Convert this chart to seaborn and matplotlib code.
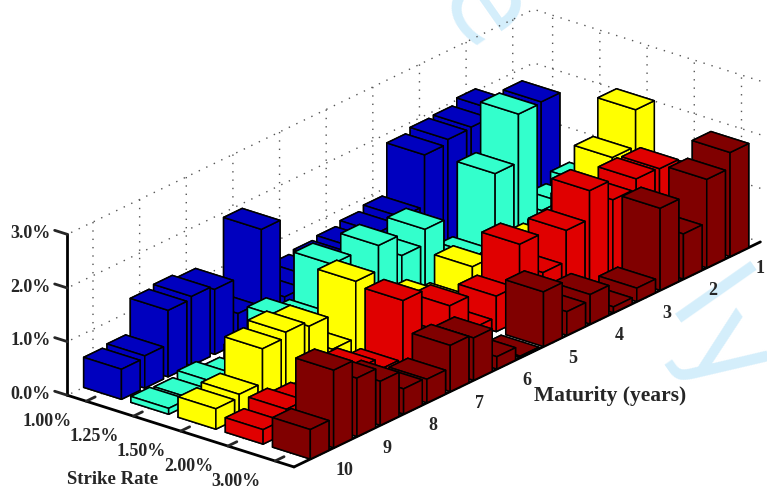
'''
barras 3D de volatilidad por strike y madurez
'''
import numpy as np
import matplotlib
matplotlib.use("Agg")
import matplotlib.pyplot as plt
import seaborn as sns

strikes = ["1.00%", "1.25%", "1.50%", "2.00%", "3.00%"]
maturities = [1, 1.5, 2, 2.5, 3, 3.5, 4, 4.5, 5, 5.5, 6, 6.5, 7, 7.5, 8, 8.5, 9, 9.5, 10]
maturity_ticks = [1, 2, 3, 4, 5, 6, 7, 8, 9, 10]
z_ticks = [0, 1, 2, 3]
z_labels = ["0.0%", "1.0%", "2.0%", "3.0%"]

strike_100 = [1.77, 1.6, 2.04, 1.93, 1.91, 1.83, 0.88, 0.8, 0.73, 0.68, 0.63, 0.44, 1.91, 0.55, 1.21, 1.29, 1.24, 0.6, 0.56]
strike_125 = [0.53, 0.34, 0.44, 2.45, 1.55, 0.19, 0.34, 1.14, 0.86, 1.26, 0.53, 1.33, 0.49, 0.73, 0.24, 0.04, 0.17, 0.08, 0.11]
strike_150 = [2.18, 1.5, 0.82, 0.53, 0.51, 0.34, 0.24, 0.72, 0.24, 0.51, 0.24, 0.24, 1.5, 0.44, 1.08, 1.18, 1.08, 0.44, 0.38]
strike_200 = [1.21, 1.57, 1.59, 1.41, 1.79, 1.26, 0.68, 1.42, 0.66, 0.27, 0.9, 0.44, 1.42, 0.34, 0.56, 0.29, 0.34, 0.44, 0.27]
strike_300 = [1.94, 1.65, 0.84, 1.53, 0.25, 0.11, 0.55, 0.44, 1.02, 0.03, 0.23, 0.79, 0.86, 0.44, 0.47, 0.82, 1.09, 1.45, 0.55]
heights = [strike_100, strike_125, strike_150, strike_200, strike_300]

colors = ["#0000BF", "#33FFCC", "#FFFF00", "#E00000", "#800000"]
bar_w = 0.8
bar_d = 0.4

sns.set_theme(style="white")
plt.rcParams["font.family"] = ["Liberation Serif", "DejaVu Serif"]
plt.rcParams["font.weight"] = "bold"

fig = plt.figure(figsize=(7.67, 4.88), dpi=100)
fig.patch.set_facecolor("white")

# marca de agua por detras del grafico
for letter, px, py in [("e", 482, 9), ("l", 700, 308), ("y", 725, 355)]:
    fig.text(px / 767, 1 - py / 488, letter, color="#D4EEFB", fontsize=87, rotation=-55,
             ha="center", va="center", family="DejaVu Sans", fontweight="normal", zorder=-1)

ax = fig.add_axes([20 / 767, -144 / 488, 1, 767 / 488], projection="3d", proj_type="ortho")
ax.patch.set_alpha(0)
ax.computed_zorder = False
ax.view_init(elev=23, azim=-51)
ax.set_box_aspect((292, 742, 175), zoom=1.032)

# se dibuja de atras hacia adelante, cada barra con su zorder
for i in range(len(strikes)):
    for j in range(len(maturities)):
        order = 10 + i * 50 + (j + 1)
        ax.bar3d(i + 1 - bar_w / 2, maturities[j] - bar_d / 2, 0, bar_w, bar_d, heights[i][j],
                 color=colors[i], edgecolor="black", linewidth=1.1, shade=False, zorder=order)

ax.set_xlim(0.6, 5.4)
ax.set_ylim(10.55, 0.55)
ax.set_zlim(0, 3)

ax.set_xticks(range(1, 6))
ax.set_xticklabels(strikes, ha="right")
ax.set_yticks(maturity_ticks)
ax.set_yticklabels(maturity_ticks, ha="left", va="center")
ax.set_zticks(z_ticks)
ax.set_zticklabels(z_labels, ha="right", va="baseline")
ax.tick_params(labelsize=13)
ax.tick_params(axis="x", pad=1)
ax.tick_params(axis="y", pad=12)
ax.tick_params(axis="z", pad=-1)

for axis in [ax.xaxis, ax.yaxis, ax.zaxis]:
    axis.set_pane_color((1, 1, 1, 0))
    axis.pane.set_edgecolor((1, 1, 1, 0))
    axis._axinfo["grid"].update(color="#555555", linestyle=(0, (1, 5)), linewidth=1.0)
    axis._axinfo["tick"]["inward_factor"] = 0.0
    axis._axinfo["tick"]["linewidth"] = {True: 2, False: 1}
    axis.line.set_linewidth(2)
    axis.line.set_color("black")
ax.xaxis._axinfo["tick"]["outward_factor"] = 0.24
ax.yaxis._axinfo["tick"]["outward_factor"] = 0.53
ax.zaxis._axinfo["tick"]["outward_factor"] = 0.7
# el eje z va en la esquina izquierda
ax.zaxis._axinfo["juggled"] = (1, 2, 0)

fig.text(67 / 767, 1 - 480 / 488, "Strike Rate", fontsize=13.5, fontweight="bold", ha="left", va="center")
fig.text(534 / 767, 1 - 396 / 488, "Maturity (years)", fontsize=15.5, fontweight="bold", ha="left", va="center")

fig.savefig("out.png", dpi=100)
